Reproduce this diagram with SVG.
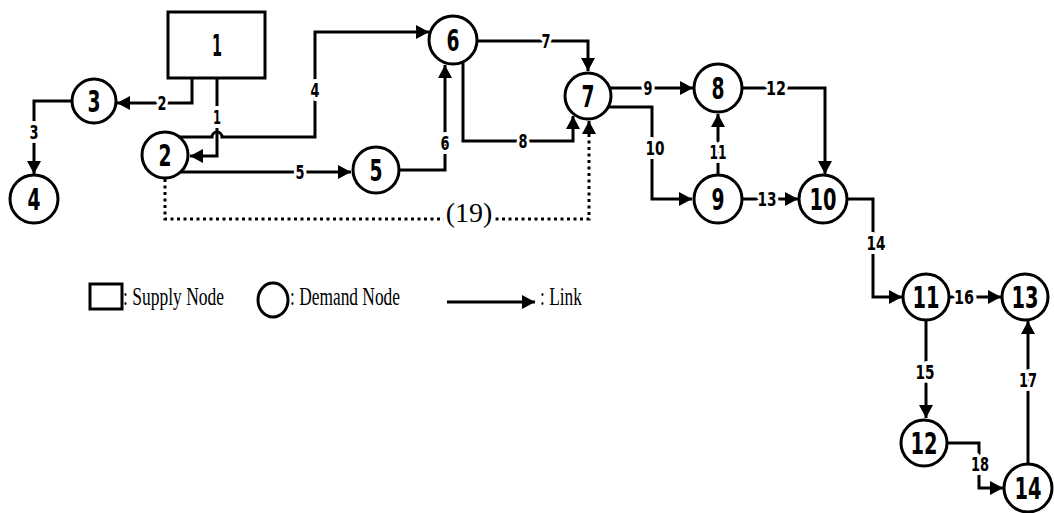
<svg xmlns="http://www.w3.org/2000/svg" width="1054" height="513" viewBox="0 0 1054 513">
<style>
.node{fill:#fff;stroke:#000;stroke-width:3}
.nl{font-family:"DejaVu Sans Condensed","DejaVu Sans",sans-serif;font-weight:bold;font-size:31px;text-anchor:middle;fill:#000}
.ll{font-family:"DejaVu Sans Condensed","DejaVu Sans",sans-serif;font-weight:bold;font-size:20px;text-anchor:middle;fill:#000;stroke:#fff;stroke-width:8;paint-order:stroke;stroke-linejoin:round}
.link{fill:none;stroke:#000;stroke-width:3;marker-end:url(#arr)}
.dot{fill:none;stroke:#000;stroke-width:3;stroke-dasharray:3 3.5;marker-end:url(#arr)}
.lg{font-family:"Liberation Serif","Times New Roman",serif;font-size:26px;fill:#000}
.ser{font-family:"Liberation Serif","Times New Roman",serif;font-size:28px;text-anchor:middle;fill:#000;stroke:#fff;stroke-width:8;paint-order:stroke;stroke-linejoin:round}
</style>
<defs>
<marker id="arr" markerUnits="userSpaceOnUse" markerWidth="14" markerHeight="14" refX="13" refY="7" orient="auto">
<path d="M0,0 L13,7 L0,14 z" fill="#000"/>
</marker>
</defs>
<rect width="1054" height="513" fill="#fff"/>
<g id="connectors">
<path class="link" d="M217,78 V156 H190"/>
<path class="link" d="M192,78 V103 H117"/>
<path class="link" d="M72,101 H34 V174"/>
<path class="link" d="M179,137 H212 a5,5 0 0 1 10,0 H315 V32 H429"/>
<path class="link" d="M181,172 H351"/>
<path class="link" d="M399,170 H445 V65"/>
<path class="link" d="M477,41 H588 V71"/>
<path class="link" d="M463,62 V141 H573 V116"/>
<path class="dot" d="M165,179 V219 H589 V121"/>
<path class="link" d="M610,88 H693"/>
<path class="link" d="M608,107 H652 V199 H692"/>
<path class="link" d="M718,175 V114"/>
<path class="link" d="M742,88 H825 V174"/>
<path class="link" d="M742,199 H798"/>
<path class="link" d="M847,199 H873 V297 H902"/>
<path class="link" d="M926,320 V418"/>
<path class="link" d="M950,297 H1001"/>
<path class="link" d="M1028,463 V321"/>
<path class="link" d="M947,443 H979 V488 H1003"/>
<text class="ll" x="217" y="124" textLength="8" lengthAdjust="spacingAndGlyphs">1</text>
<text class="ll" x="162" y="110" textLength="9" lengthAdjust="spacingAndGlyphs">2</text>
<text class="ll" x="34" y="139" textLength="9" lengthAdjust="spacingAndGlyphs">3</text>
<text class="ll" x="315" y="97" textLength="9" lengthAdjust="spacingAndGlyphs">4</text>
<text class="ll" x="300" y="179" textLength="9" lengthAdjust="spacingAndGlyphs">5</text>
<text class="ll" x="445" y="150" textLength="9" lengthAdjust="spacingAndGlyphs">6</text>
<text class="ll" x="546" y="48" textLength="9" lengthAdjust="spacingAndGlyphs">7</text>
<text class="ll" x="523" y="148" textLength="9" lengthAdjust="spacingAndGlyphs">8</text>
<text class="ll" x="648" y="95" textLength="9" lengthAdjust="spacingAndGlyphs">9</text>
<text class="ll" x="655" y="155" textLength="19" lengthAdjust="spacingAndGlyphs">10</text>
<text class="ll" x="718" y="159" textLength="17" lengthAdjust="spacingAndGlyphs">11</text>
<text class="ll" x="776" y="95" textLength="20" lengthAdjust="spacingAndGlyphs">12</text>
<text class="ll" x="767" y="206" textLength="19" lengthAdjust="spacingAndGlyphs">13</text>
<text class="ll" x="876" y="250" textLength="19" lengthAdjust="spacingAndGlyphs">14</text>
<text class="ll" x="925" y="379" textLength="19" lengthAdjust="spacingAndGlyphs">15</text>
<text class="ll" x="964" y="304" textLength="20" lengthAdjust="spacingAndGlyphs">16</text>
<text class="ll" x="1028" y="387" textLength="18" lengthAdjust="spacingAndGlyphs">17</text>
<text class="ll" x="980" y="471" textLength="18" lengthAdjust="spacingAndGlyphs">18</text>
<text class="ser" x="469" y="222">(19)</text>
</g>
<g id="n1"><rect class="node" x="168" y="12" width="97" height="66"/><text class="nl" x="217" y="56" textLength="10" lengthAdjust="spacingAndGlyphs">1</text></g>
<g id="n2"><circle class="node" cx="165" cy="155" r="23"/><text class="nl" x="165" y="166" textLength="13" lengthAdjust="spacingAndGlyphs">2</text></g>
<g id="n3"><circle class="node" cx="94" cy="101" r="22"/><text class="nl" x="94" y="112" textLength="13" lengthAdjust="spacingAndGlyphs">3</text></g>
<g id="n4"><circle class="node" cx="34" cy="199" r="24"/><text class="nl" x="34" y="210" textLength="13" lengthAdjust="spacingAndGlyphs">4</text></g>
<g id="n5"><circle class="node" cx="376" cy="170" r="23"/><text class="nl" x="376" y="181" textLength="13" lengthAdjust="spacingAndGlyphs">5</text></g>
<g id="n6"><circle class="node" cx="453" cy="40" r="24"/><text class="nl" x="453" y="51" textLength="13" lengthAdjust="spacingAndGlyphs">6</text></g>
<g id="n7"><circle class="node" cx="588" cy="96" r="23"/><text class="nl" x="588" y="107" textLength="13" lengthAdjust="spacingAndGlyphs">7</text></g>
<g id="n8"><circle class="node" cx="718" cy="88" r="24"/><text class="nl" x="718" y="99" textLength="13" lengthAdjust="spacingAndGlyphs">8</text></g>
<g id="n9"><circle class="node" cx="718" cy="199" r="24"/><text class="nl" x="718" y="210" textLength="13" lengthAdjust="spacingAndGlyphs">9</text></g>
<g id="n10"><circle class="node" cx="823" cy="199" r="24"/><text class="nl" x="823" y="210" textLength="27" lengthAdjust="spacingAndGlyphs">10</text></g>
<g id="n11"><circle class="node" cx="926" cy="297" r="23"/><text class="nl" x="926" y="308" textLength="27" lengthAdjust="spacingAndGlyphs">11</text></g>
<g id="n12"><circle class="node" cx="924" cy="443" r="23"/><text class="nl" x="924" y="454" textLength="27" lengthAdjust="spacingAndGlyphs">12</text></g>
<g id="n13"><circle class="node" cx="1025" cy="297" r="23"/><text class="nl" x="1025" y="308" textLength="27" lengthAdjust="spacingAndGlyphs">13</text></g>
<g id="n14"><circle class="node" cx="1028" cy="488" r="24"/><text class="nl" x="1028" y="499" textLength="27" lengthAdjust="spacingAndGlyphs">14</text></g>
<g id="legend">
<rect class="node" x="90" y="284" width="32" height="25"/>
<text class="lg" x="123" y="305" textLength="101" lengthAdjust="spacingAndGlyphs">: Supply Node</text>
<ellipse class="node" cx="273" cy="300" rx="15" ry="17"/>
<text class="lg" x="290" y="305" textLength="110" lengthAdjust="spacingAndGlyphs">: Demand Node</text>
<path class="link" d="M447,302 H535"/>
<text class="lg" x="540" y="305" textLength="42" lengthAdjust="spacingAndGlyphs">: Link</text>
</g>
</svg>
